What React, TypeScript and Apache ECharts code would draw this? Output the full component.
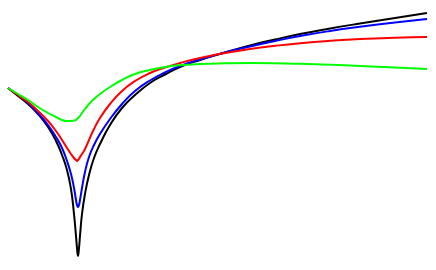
import React, { useEffect, useRef } from "react";
import * as echarts from "echarts";

const xs = [8, 18, 28, 38, 48, 56, 62, 67, 71, 74, 76, 77, 78, 79, 80, 82, 85, 89, 94, 100, 110, 122, 135, 150, 165, 180, 200, 225, 250, 275, 300, 330, 360, 395, 427];

const blackY = [88, 96, 104, 114, 127, 141, 155, 170, 189, 214, 236, 248, 256, 248, 236, 214, 194, 175, 158, 144, 125, 108, 95, 83, 74.5, 67, 60, 52.5, 45.5, 39.5, 34, 28.5, 23.5, 18, 13];
const blueY = [88, 95, 103, 113, 125, 137, 148, 161, 174, 188, 200, 205, 207, 205, 200, 188, 172, 157, 145, 134, 119, 104, 91, 80.5, 72.5, 66, 59.5, 52.5, 46.5, 41, 36, 31, 26.8, 22.5, 19];
const redY = [88, 95, 102, 111, 121, 131, 140, 148, 154, 158, 160, 161, 160, 159, 157, 154, 149, 140, 129, 118, 104, 91, 81, 73, 67.5, 63, 58, 53, 49, 45.8, 43.2, 40.8, 39, 37.7, 37];
const greenY = [88, 94, 100, 107, 113, 117, 120, 121, 121, 120.5, 120, 119, 118, 117, 116, 113, 109, 104, 99, 94, 87, 80, 74, 70, 67, 65.2, 64, 63.3, 63, 63.2, 63.8, 64.8, 66, 67.5, 69];

const seriesDefs = [
  { name: "black", color: "#000000", values: blackY },
  { name: "blue", color: "#0000ff", values: blueY },
  { name: "red", color: "#ff0000", values: redY },
  { name: "green", color: "#00ff00", values: greenY },
];

export default function App() {
  const ref = useRef<HTMLDivElement>(null);
  useEffect(() => {
    if (!ref.current) return;
    const chart = echarts.init(ref.current, null, { renderer: "svg" });
    chart.setOption({
      animation: false,
      backgroundColor: "#ffffff",
      grid: { left: 0, right: 0, top: 0, bottom: 0 },
      xAxis: { type: "value", min: 0, max: 436, show: false },
      yAxis: { type: "value", min: 0, max: 270, inverse: true, show: false },
      series: seriesDefs.map((s) => ({
        name: s.name,
        type: "line",
        data: xs.map((x, i) => [x, s.values[i]]),
        smooth: 0.5,
        symbol: "none",
        lineStyle: { color: s.color, width: 2 },
      })),
    });
    return () => chart.dispose();
  }, []);
  return (
    <div
      ref={ref}
      style={{ position: "fixed", left: 0, top: 0, width: 436, height: 270 }}
    />
  );
}
